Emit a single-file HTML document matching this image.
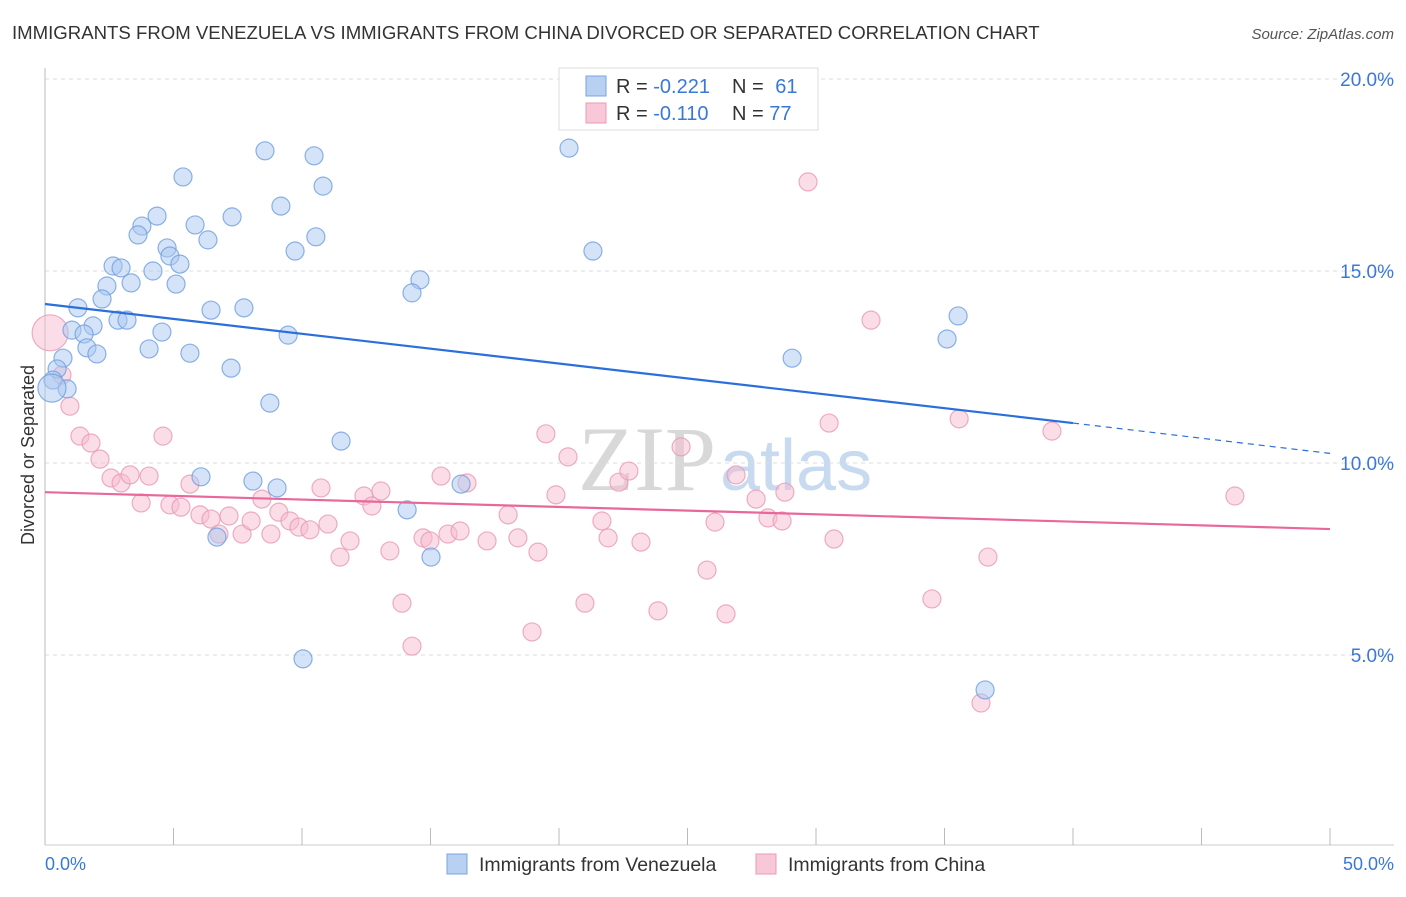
<!DOCTYPE html>
<html><head><meta charset="utf-8"><style>
body{margin:0;background:#fff;font-family:"Liberation Sans",sans-serif;}
svg text{font-family:"Liberation Sans",sans-serif;}
</style></head><body>
<svg id="chart" width="1406" height="892" xmlns="http://www.w3.org/2000/svg">
<text x="12" y="39" font-size="18.6" fill="#333">IMMIGRANTS FROM VENEZUELA VS IMMIGRANTS FROM CHINA DIVORCED OR SEPARATED CORRELATION CHART</text>
<text x="1394" y="39" font-size="15" fill="#555" text-anchor="end" font-style="italic">Source: ZipAtlas.com</text>
<text x="716" y="490" font-size="92" fill="#d8d8d8" text-anchor="end" style="font-family:'Liberation Serif',serif">ZIP</text>
<text x="720" y="490" font-size="72" fill="#c8daf0">atlas</text>
<g id="grid"></g>
<g id="axes"></g>
<g id="pts"></g>
<g id="lines"></g>
<text transform="translate(34,455) rotate(-90)" font-size="18" fill="#333" text-anchor="middle">Divorced or Separated</text>
<text x="45" y="870" font-size="18" fill="#3a78d8">0.0%</text>
<text x="1394" y="870" font-size="18" fill="#3a78d8" text-anchor="end">50.0%</text>
<g>
<rect x="559" y="68" width="259" height="62" fill="#fff" stroke="#ddd"/>
<rect x="586" y="76" width="20" height="20" fill="#b8d0f2" stroke="#7aa5e0"/>
<rect x="586" y="103" width="20" height="20" fill="#f8c8d8" stroke="#e89ab5"/>
<text x="616" y="93" font-size="20" fill="#333">R = <tspan fill="#3a78d8">-0.221</tspan></text>
<text x="732" y="93" font-size="20" fill="#333">N = <tspan dx="6" fill="#3a78d8">61</tspan></text>
<text x="616" y="120" font-size="20" fill="#333">R = <tspan fill="#3a78d8">-0.110</tspan></text>
<text x="732" y="120" font-size="20" fill="#333">N = <tspan fill="#3a78d8">77</tspan></text>
</g>
<g>
<rect x="447" y="854" width="20" height="20" fill="#b8d0f2" stroke="#7aa5e0"/>
<text x="479" y="871" font-size="19.5" fill="#333">Immigrants from Venezuela</text>
<rect x="756" y="854" width="20" height="20" fill="#f8c8d8" stroke="#e89ab5"/>
<text x="788" y="871" font-size="19.5" fill="#333">Immigrants from China</text>
</g>
</svg>
<script>
const yTicks=[5,10,15,20];
const yTickLabels=["5.0%","10.0%","15.0%","20.0%"];
const xTicks=[0,5,10,15,20,25,30,35,40,45,50];
const venX=[8.56,10.47,5.37,10.82,20.39,9.18,4.36,7.28,3.77,5.84,3.62,6.34,10.54,4.75,9.73,21.32,4.86,5.25,2.65,2.96,4.2,14.59,3.35,5.1,2.41,14.28,2.22,1.28,6.46,7.74,2.84,3.19,1.87,1.05,4.55,1.52,9.46,35.1,35.53,1.63,4.05,2.02,5.64,0.7,29.07,0.47,7.24,0.31,0.86,8.75,11.52,6.07,8.09,9.03,16.19,14.09,6.69,15.02,10.04,36.58];
const venY=[18.13,18.0,17.45,17.21,18.2,16.69,16.43,16.41,16.17,16.2,15.94,15.81,15.89,15.6,15.52,15.52,15.39,15.18,15.13,15.08,15.0,14.77,14.69,14.66,14.61,14.43,14.27,14.04,13.98,14.04,13.72,13.72,13.57,13.46,13.41,13.36,13.33,13.23,13.83,13.0,12.97,12.84,12.86,12.73,12.73,12.45,12.47,12.16,11.93,11.56,10.57,9.64,9.53,9.35,9.45,8.78,8.07,7.55,4.9,4.09];
const chnX=[0.66,0.97,1.36,1.79,2.14,4.59,2.57,2.96,3.31,4.05,3.74,4.86,5.29,5.64,6.03,6.46,6.77,7.16,7.67,8.02,8.44,8.79,9.1,9.53,9.88,10.31,10.74,11.01,11.48,11.87,12.41,12.72,13.07,13.42,13.89,14.28,14.71,14.98,15.41,15.68,16.15,16.42,17.2,18.02,18.4,18.95,19.18,19.49,19.88,20.35,21.01,21.67,21.91,22.33,22.72,23.19,23.85,24.75,25.76,26.07,26.5,26.89,27.67,28.13,28.68,28.79,29.69,30.51,30.7,32.14,34.51,35.57,36.69,36.42,39.18,46.3];
const chnY=[12.29,11.48,10.7,10.52,10.1,10.7,9.61,9.48,9.69,9.66,8.96,8.91,8.85,9.45,8.65,8.54,8.15,8.62,8.15,8.49,9.06,8.15,8.72,8.49,8.33,8.26,9.35,8.41,7.55,7.97,9.14,8.88,9.27,7.71,6.35,5.23,8.05,7.97,9.66,8.15,8.23,9.48,7.97,8.65,8.05,5.6,7.68,10.76,9.17,10.16,6.35,8.49,8.05,9.5,9.79,7.94,6.15,10.42,7.21,8.46,6.07,9.69,9.06,8.57,8.49,9.24,17.32,11.04,8.02,13.72,6.46,11.15,7.55,3.75,10.83,9.14];
const venTrend=[14.14,11.04,10.25];
const chnTrend=[9.24,8.28];
const X=v=>45+v*25.7, Y=v=>847-v*38.4;
const NS="http://www.w3.org/2000/svg";
function mk(tag,attrs,parent){const e=document.createElementNS(NS,tag);for(const k in attrs)e.setAttribute(k,attrs[k]);document.getElementById(parent).appendChild(e);return e;}
yTicks.forEach((t,i)=>{
 const g=mk('line',{x1:45,x2:1394,y1:Y(t),y2:Y(t),stroke:'#ddd','stroke-dasharray':'4,4'},'grid');
 
 
 const tx=mk('text',{x:1394,y:Y(t)+7,'font-size':19,fill:'#3a78d8','text-anchor':'end'},'grid');
 tx.textContent=yTickLabels[i];
 
 
});
mk('line',{x1:45,x2:45,y1:68,y2:845,stroke:'#bbb'},'axes');
mk('line',{x1:45,x2:1394,y1:845,y2:845,stroke:'#ccc'},'axes');
xTicks.forEach(t=>{
 const l=mk('line',{x1:X(t),x2:X(t),y1:828,y2:845,stroke:'#bbb'},'axes');
 
 
});
function pt(x,y,r,fill,stroke,name){
 const c=mk('circle',{cx:X(x),cy:Y(y),r:r,fill:fill,'fill-opacity':0.5,stroke:stroke,'stroke-opacity':0.8,'stroke-width':1.2},'pts');
 
 
}
chnX.forEach((x,i)=>pt(x,chnY[i],9,'#f6bcd0','#e89ab5','china-point'));
pt(0.2,13.39,18,'#f6bcd0','#e89ab5','china-point');
venX.forEach((x,i)=>pt(x,venY[i],9,'#aac8f0','#6f9fe0','venezuela-point'));
pt(0.27,11.95,14,'#aac8f0','#6f9fe0','venezuela-point');
const vl=mk('line',{x1:X(0),y1:Y(venTrend[0]),x2:X(40),y2:Y(venTrend[1]),stroke:'#2a6fdb','stroke-width':2.2},'lines');


const vd=mk('line',{x1:X(40),y1:Y(venTrend[1]),x2:X(50),y2:Y(venTrend[2]),stroke:'#2a6fdb','stroke-width':1.2,'stroke-dasharray':'6,5'},'lines');


const cl=mk('line',{x1:X(0),y1:Y(chnTrend[0]),x2:X(50),y2:Y(chnTrend[1]),stroke:'#e8689a','stroke-width':2.2},'lines');


</script>
</body></html>
